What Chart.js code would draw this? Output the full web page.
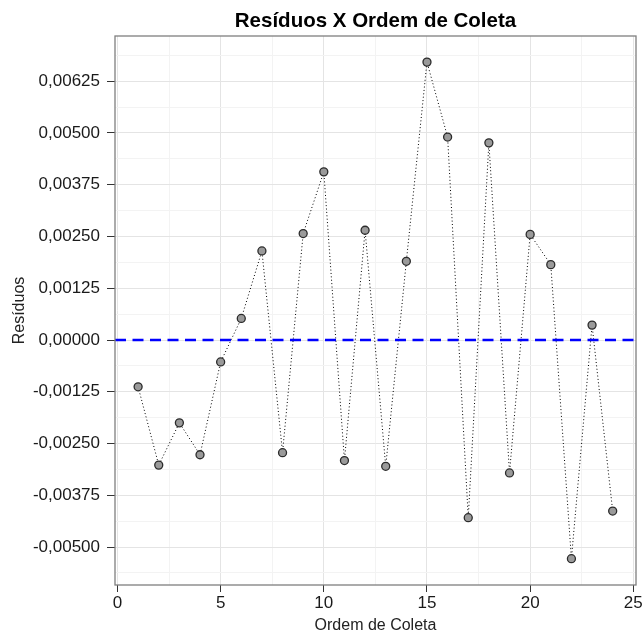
<!DOCTYPE html>
<html>
<head>
<meta charset="utf-8">
<script src="https://cdn.jsdelivr.net/npm/chart.js@4"></script>
<style>
  html, body { margin: 0; padding: 0; background: #fff; }
  #wrap { width: 644px; height: 634px; }
</style>
</head>
<body>
<div id="wrap"><canvas id="residuosChart"></canvas></div>
<script>
// dados
const ordemColeta = [1, 2, 3, 4, 5, 6, 7, 8, 9, 10, 11, 12, 13, 14, 15, 16, 17, 18, 19, 20, 21, 22, 23, 24];
const residuos = [-0.00113, -0.00302, -0.00200, -0.00277, -0.00053, 0.00052, 0.00215, -0.00272,
                  0.00257, 0.00406, -0.00291, 0.00265, -0.00305, 0.00190, 0.00671, 0.00490,
                  -0.00429, 0.00476, -0.00321, 0.00255, 0.00182, -0.00528, 0.00036, -0.00413];
const linhaReferencia = 0;

const xTicks = [0, 5, 10, 15, 20, 25];
const xTickLabels = ['0', '5', '10', '15', '20', '25'];
const yTicks = [-0.005, -0.00375, -0.0025, -0.00125, 0, 0.00125, 0.0025, 0.00375, 0.005, 0.00625];
const yTickLabels = ['-0,00500', '-0,00375', '-0,00250', '-0,00125', '0,00000',
                     '0,00125', '0,00250', '0,00375', '0,00500', '0,00625'];

const xMin = -0.12, xMax = 25.13;
const yMin = -0.005915, yMax = 0.00734;

const FONT = "'Liberation Sans', Arial, sans-serif";

// grade menor no meio das marcas principais
function withMinor(major, min, max) {
    const step = major[1] - major[0];
    const out = [];
    for (let v = major[0] - step / 2; v <= max; v += step / 2) {
        if (v >= min) out.push(+v.toFixed(8));
    }
    return out;
}

function labelIndex(list, v) {
    return list.findIndex(t => Math.abs(t - v) < 1e-9);
}

const panelBorder = {
    id: 'panelBorder',
    afterDraw(chart) {
        const a = chart.chartArea;
        const ctx = chart.ctx;
        ctx.save();
        ctx.strokeStyle = '#7f7f7f';
        ctx.lineWidth = 1.3;
        ctx.strokeRect(a.left, a.top, a.right - a.left, a.bottom - a.top);
        ctx.restore();
    }
};

function gridOpts(major) {
    return {
        color: c => labelIndex(major, c.tick.value) >= 0 ? '#e4e4e4' : '#f3f3f3',
        lineWidth: 1,
        tickColor: c => labelIndex(major, c.tick.value) >= 0 ? '#333' : 'rgba(0,0,0,0)',
        drawTicks: true
    };
}

const ctx = document.getElementById('residuosChart').getContext('2d');
new Chart(ctx, {
    type: 'scatter',
    data: {
        datasets: [{
            label: 'Zero',
            type: 'line',
            data: [{x: xMin, y: linhaReferencia}, {x: xMax, y: linhaReferencia}],
            borderColor: '#0000ff',
            borderWidth: 2.4,
            borderDash: [11, 6.5],
            pointRadius: 0,
            order: 0
        }, {
            label: 'Resíduos',
            type: 'line',
            data: ordemColeta.map((x, i) => ({x: x, y: residuos[i]})),
            borderColor: '#000',
            borderWidth: 1,
            borderDash: [1, 2.4],
            pointRadius: 4,
            pointBackgroundColor: '#9a9a9a',
            pointBorderColor: '#2b2b2b',
            pointBorderWidth: 1.3,
            tension: 0,
            order: 1
        }]
    },
    options: {
        responsive: true,
        maintainAspectRatio: false,
        animation: false,
        layout: { padding: { left: 0, right: 8, top: 0, bottom: 0 } },
        plugins: {
            legend: { display: false },
            tooltip: { enabled: false },
            title: {
                display: true,
                fullSize: false,
                text: 'Resíduos X Ordem de Coleta',
                color: '#000',
                font: { family: FONT, size: 20.5, weight: 'bold' },
                padding: { top: 9, bottom: 2.4 }
            }
        },
        scales: {
            x: {
                type: 'linear',
                min: xMin,
                max: xMax,
                afterBuildTicks: s => { s.ticks = withMinor(xTicks, xMin, xMax).map(v => ({value: v})); },
                afterFit: s => { s.height = 49; },
                ticks: {
                    autoSkip: false,
                    maxRotation: 0,
                    padding: 1,
                    color: '#1a1a1a',
                    font: { family: FONT, size: 17 },
                    callback: v => { const i = labelIndex(xTicks, v); return i >= 0 ? xTickLabels[i] : ''; }
                },
                grid: Object.assign(gridOpts(xTicks), { tickLength: 7 }),
                border: { display: false },
                title: {
                    display: true,
                    text: 'Ordem de Coleta',
                    color: '#222',
                    font: { family: FONT, size: 16, lineHeight: 1 },
                    padding: { top: 0, bottom: 0 }
                }
            },
            y: {
                type: 'linear',
                min: yMin,
                max: yMax,
                afterBuildTicks: s => { s.ticks = withMinor(yTicks, yMin, yMax).map(v => ({value: v})); },
                afterFit: s => { s.width = 115; },
                ticks: {
                    autoSkip: false,
                    padding: 7,
                    color: '#1a1a1a',
                    font: { family: FONT, size: 17 },
                    callback: v => { const i = labelIndex(yTicks, v); return i >= 0 ? yTickLabels[i] : ''; }
                },
                grid: Object.assign(gridOpts(yTicks), { tickLength: 8 }),
                border: { display: false },
                title: {
                    display: true,
                    text: 'Resíduos',
                    color: '#222',
                    font: { family: FONT, size: 16, lineHeight: 1 },
                    padding: { top: 12, bottom: 0 }
                }
            }
        }
    },
    plugins: [panelBorder]
});
</script>
</body>
</html>
